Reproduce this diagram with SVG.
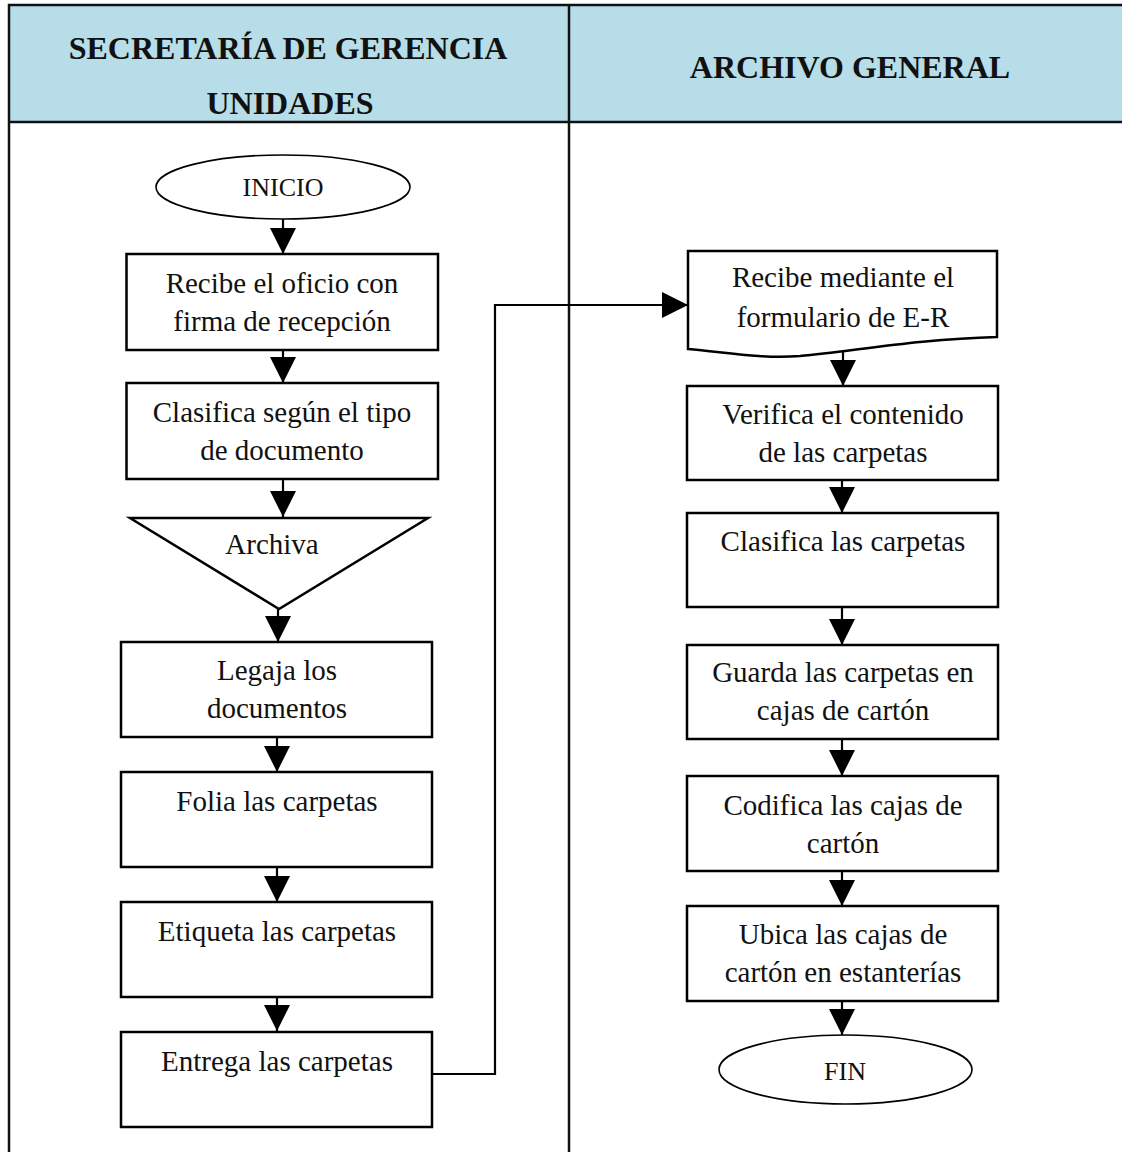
<svg xmlns="http://www.w3.org/2000/svg" width="1122" height="1152" viewBox="0 0 1122 1152">
<style>
.hdr{fill:#b7dde8;stroke:none}
.grid{stroke:#111;stroke-width:2.5;fill:none}
.box{fill:#fff;stroke:#000;stroke-width:2.5}
.term{fill:#fff;stroke:#000;stroke-width:1.6}
.t{font-family:"Liberation Serif","Times New Roman",serif;font-size:29px;fill:#111;text-anchor:middle}
.ts{font-family:"Liberation Serif","Times New Roman",serif;font-size:26px;fill:#111;text-anchor:middle}
.h{font-family:"Liberation Serif","Times New Roman",serif;font-size:32px;font-weight:bold;fill:#111;text-anchor:middle}
.c{stroke:#000;stroke-width:2.2;fill:none}
</style>
<defs>
<marker id="ah" viewBox="0 0 26 26" refX="26" refY="13" markerWidth="26" markerHeight="26" markerUnits="userSpaceOnUse" orient="auto">
<path d="M0,0 L26,13 L0,26 Z" fill="#000"/>
</marker>
</defs>
<rect width="1122" height="1152" fill="#fff"/>
<g id="table">
<rect class="hdr" x="9" y="5" width="1113" height="117"/>
<path class="grid" d="M9,1152 V5 H1122 M9,122 H1122 M569,5 V1152"/>
<text class="h" x="288" y="59">SECRETARÍA DE GERENCIA</text>
<text class="h" x="290" y="114">UNIDADES</text>
<text class="h" x="850" y="78">ARCHIVO GENERAL</text>
</g>
<g id="connectors">
<path class="c" d="M283,219 V254" marker-end="url(#ah)"/>
<path class="c" d="M283,350 V383" marker-end="url(#ah)"/>
<path class="c" d="M283,479 V517" marker-end="url(#ah)"/>
<path class="c" d="M278,609 V642" marker-end="url(#ah)"/>
<path class="c" d="M277,737 V772" marker-end="url(#ah)"/>
<path class="c" d="M277,867 V902" marker-end="url(#ah)"/>
<path class="c" d="M277,995 V1031" marker-end="url(#ah)"/>
<path class="c" d="M432,1074 H495 V305 H688" marker-end="url(#ah)"/>
<path class="c" d="M843,352 V386" marker-end="url(#ah)"/>
<path class="c" d="M842,480 V513" marker-end="url(#ah)"/>
<path class="c" d="M842,607 V645" marker-end="url(#ah)"/>
<path class="c" d="M842,739 V776" marker-end="url(#ah)"/>
<path class="c" d="M842,871 V906" marker-end="url(#ah)"/>
<path class="c" d="M842,1001 V1035" marker-end="url(#ah)"/>
</g>
<g id="inicio">
<ellipse class="term" cx="283" cy="187" rx="127" ry="32"/>
<text class="ts" x="283" y="196">INICIO</text>
</g>
<g id="recibe-oficio">
<rect class="box" x="126.5" y="254" width="311.5" height="96"/>
<text class="t" x="282" y="293">Recibe el oficio con</text>
<text class="t" x="282" y="331">firma de recepción</text>
</g>
<g id="clasifica-tipo">
<rect class="box" x="126.5" y="383" width="311.5" height="96"/>
<text class="t" x="282" y="422">Clasifica según el tipo</text>
<text class="t" x="282" y="460">de documento</text>
</g>
<g id="archiva">
<path class="box" d="M130,518 H428 L279,609 Z" stroke-width="2"/>
<text class="t" x="272" y="554">Archiva</text>
</g>
<g id="legaja">
<rect class="box" x="121" y="642" width="311" height="95"/>
<text class="t" x="277" y="680">Legaja los</text>
<text class="t" x="277" y="718">documentos</text>
</g>
<g id="folia">
<rect class="box" x="121" y="772" width="311" height="95"/>
<text class="t" x="277" y="811">Folia las carpetas</text>
</g>
<g id="etiqueta">
<rect class="box" x="121" y="902" width="311" height="95"/>
<text class="t" x="277" y="941">Etiqueta las carpetas</text>
</g>
<g id="entrega">
<rect class="box" x="121" y="1032" width="311" height="95"/>
<text class="t" x="277" y="1071">Entrega las carpetas</text>
</g>
<g id="recibe-formulario">
<path class="box" d="M688,251 H997 V337 C 920,339 860,350 800,356 C 760,359 725,352 688,349 Z" stroke-width="2"/>
<text class="t" x="843" y="287">Recibe mediante el</text>
<text class="t" x="843" y="327">formulario de E-R</text>
</g>
<g id="verifica">
<rect class="box" x="687" y="386" width="311" height="94"/>
<text class="t" x="843" y="424">Verifica el contenido</text>
<text class="t" x="843" y="462">de las carpetas</text>
</g>
<g id="clasifica-carpetas">
<rect class="box" x="687" y="513" width="311" height="94"/>
<text class="t" x="843" y="551">Clasifica las carpetas</text>
</g>
<g id="guarda">
<rect class="box" x="687" y="645" width="311" height="94"/>
<text class="t" x="843" y="682">Guarda las carpetas en</text>
<text class="t" x="843" y="720">cajas de cartón</text>
</g>
<g id="codifica">
<rect class="box" x="687" y="776" width="311" height="95"/>
<text class="t" x="843" y="815">Codifica las cajas de</text>
<text class="t" x="843" y="853">cartón</text>
</g>
<g id="ubica">
<rect class="box" x="687" y="906" width="311" height="95"/>
<text class="t" x="843" y="944">Ubica las cajas de</text>
<text class="t" x="843" y="982">cartón en estanterías</text>
</g>
<g id="fin">
<ellipse class="term" cx="845.5" cy="1069.5" rx="126.5" ry="34.5"/>
<text class="ts" x="845" y="1080">FIN</text>
</g>
</svg>
